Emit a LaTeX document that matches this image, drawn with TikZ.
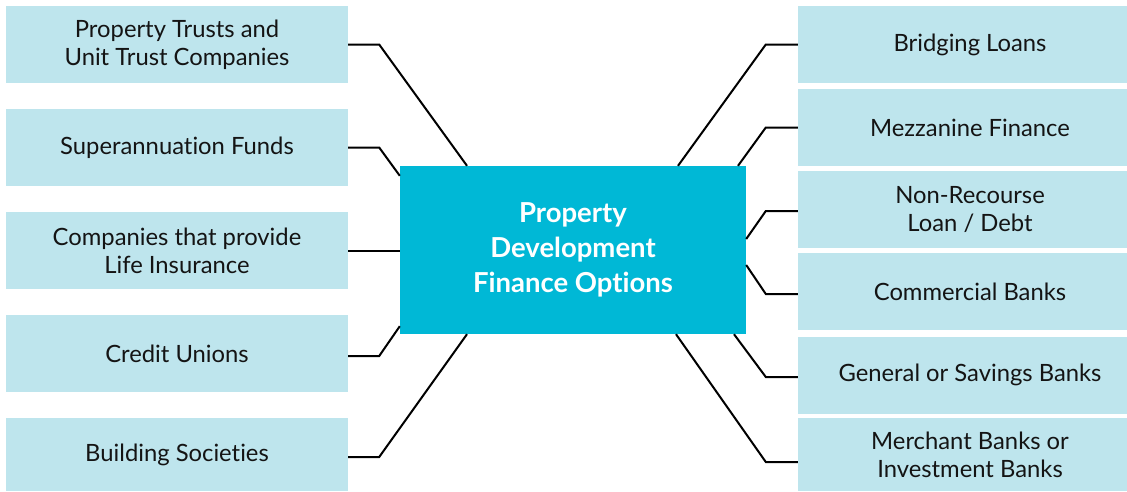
\documentclass[tikz,border=0pt]{standalone}
\usepackage{fontspec}
\setmainfont{Lato}[Ligatures={NoCommon,NoDiscretionary}]
\begin{document}
\begin{tikzpicture}[x=1pt,y=-1pt,
  side/.style={fill=sidefill, draw=none, inner sep=0pt, font=\fontsize{23.8}{28}\selectfont,
    text=black!92, align=center},
  leftbox/.style={side, minimum width=342pt, minimum height=77pt},
  rightbox/.style={side, minimum width=344pt, minimum height=77pt},
  hub/.style={fill=hubfill, draw=none, minimum width=346pt, minimum height=168pt,
    inner sep=0pt, text=white, align=center, font=\bfseries\fontsize{27.5}{35}\selectfont},
  link/.style={draw=black, line width=2pt, line join=miter}]
\definecolor{sidefill}{RGB}{190,229,237}
\definecolor{hubfill}{RGB}{0,184,214}
\useasboundingbox (0,0) rectangle (1127,491);

% central topic
\node[hub] (c) at (573,250) {Property\\Development\\Finance Options};

% sources on the left
\node[leftbox] (l1) at (177,44.5) {Property Trusts and\\Unit Trust Companies};
\node[leftbox] (l2) at (177,147.5) {Superannuation Funds};
\node[leftbox] (l3) at (177,250.5) {Companies that provide\\Life Insurance};
\node[leftbox] (l4) at (177,353.5) {Credit Unions};
\node[leftbox, minimum height=73pt] (l5) at (177,454.5) {Building Societies};

% options on the right (boxes run past the right edge)
\node[rightbox] (r1) at (970,44.5) {Bridging Loans};
\node[rightbox] (r2) at (970,127.5) {Mezzanine Finance};
\node[rightbox] (r3) at (970,209.5) {Non-Recourse\\Loan / Debt};
\node[rightbox] (r4) at (970,291.5) {Commercial Banks};
\node[rightbox] (r5) at (970,375) {General or Savings Banks};
\node[rightbox, minimum height=73pt] (r6) at (970,454.5) {Merchant Banks or\\Investment Banks};

% connectors, left side
\draw[link] (l1.east) -- ++(31,0) -- ([xshift=-106pt]c.north);
\draw[link] (l2.east) -- ++(31,0) -- ([yshift=-10pt]c.north west);
\draw[link] (l3.east) -- (l3.east -| c.west);
\draw[link] ([yshift=-2.5pt]l4.east) -- ++(31,0) -- ([yshift=8pt]c.south west);
\draw[link] ([yshift=-2.5pt]l5.east) -- ++(31,0) -- ([xshift=-106pt]c.south);

% connectors, right side
\draw[link] (r1.west) -- ++(-32,0) -- ([xshift=105pt]c.north);
\draw[link] (r2.west) -- ++(-32,0) -- ([xshift=165pt]c.north);
\draw[link] ([yshift=-1.5pt]r3.west) -- ++(-32,0) -- ([yshift=11pt]c.east);
\draw[link] ([yshift=-2.5pt]r4.west) -- ++(-32,0) -- ([yshift=-15pt]c.east);
\draw[link] ([yshift=-2pt]r5.west) -- ++(-32,0) -- ([xshift=161pt]c.south);
\draw[link] ([yshift=-7.5pt]r6.west) -- ++(-32,0) -- ([xshift=103pt]c.south);
\end{tikzpicture}
\end{document}
